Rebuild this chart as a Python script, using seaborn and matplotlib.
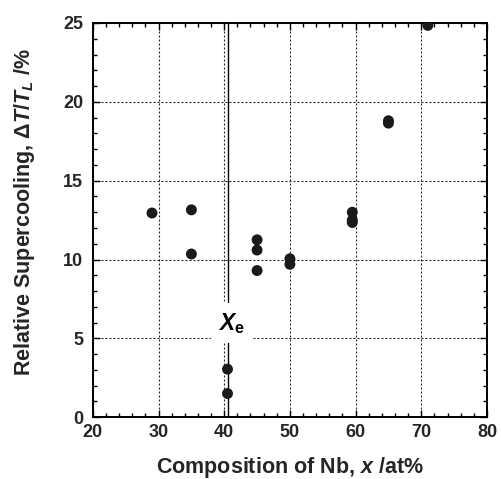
import pandas as pd
import matplotlib.pyplot as plt
import seaborn as sns
from matplotlib.ticker import MultipleLocator

# data
composition = [29, 35, 35, 40.5, 40.5, 45, 45, 45, 50, 50, 59.5, 59.5, 59.5, 65, 65, 71]
supercooling = [12.95, 13.15, 10.35, 3.05, 1.5, 11.25, 10.6, 9.3, 10.05, 9.7,
                13.0, 12.5, 12.35, 18.8, 18.65, 24.85]
eutectic_x = 40.5
x_ticks = [20, 30, 40, 50, 60, 70, 80]
y_ticks = [0, 5, 10, 15, 20, 25]

df = pd.DataFrame({'x': composition, 'y': supercooling})

sns.set_style('ticks')
plt.rcParams['font.family'] = ['Liberation Sans', 'DejaVu Sans']
plt.rcParams['font.weight'] = 'bold'
plt.rcParams['mathtext.fontset'] = 'custom'
plt.rcParams['mathtext.rm'] = 'Liberation Sans:bold'
plt.rcParams['mathtext.bf'] = 'Liberation Sans:bold'
plt.rcParams['mathtext.it'] = 'Liberation Sans:style=italic:weight=bold'

fig = plt.figure(figsize=(5.02, 4.79), dpi=100)
ax = fig.add_axes([0.185, 0.129, 0.785, 0.823])

# eutectic composition line
ax.axvline(eutectic_x, color='black', linewidth=1.0, zorder=2)

sns.scatterplot(data=df, x='x', y='y', ax=ax, color='#1a1a1a', s=62,
                edgecolor='none', zorder=4)

# label with white box that interrupts the line and the grid
ax.text(41.1, 5.95, r'$\mathit{X}_{\mathrm{e}}$', fontsize=16.5, ha='center', va='center',
        color='black', zorder=3, bbox=dict(facecolor='white', edgecolor='none', pad=5.5))

ax.set_xlim(20, 80)
ax.set_ylim(0, 25)
ax.set_xticks(x_ticks)
ax.set_yticks(y_ticks)
ax.xaxis.set_minor_locator(MultipleLocator(2))
ax.yaxis.set_minor_locator(MultipleLocator(1))
ax.tick_params(which='both', direction='in', top=True, right=True, labelsize=13,
               width=1.0, color='black')
ax.tick_params(which='major', length=5)
ax.tick_params(which='minor', length=3)
ax.tick_params(axis='x', which='major', pad=5)
ax.tick_params(axis='y', which='major', pad=7)
for lab in ax.get_xticklabels() + ax.get_yticklabels():
    lab.set_fontweight('bold')

ax.grid(which='major', linestyle=(0, (1.8, 1.8)), color='black', linewidth=0.8, alpha=0.85)
for sp in ax.spines.values():
    sp.set_linewidth(1.4)
    sp.set_color('black')

ax.set_xlabel(r'Composition of Nb, $\mathit{x}$ /at%', fontsize=15.5, fontweight='bold')
ax.set_ylabel(r'Relative Supercooling, $\Delta\mathit{T/T}_{\mathit{L}}$ /%', fontsize=15.5,
              fontweight='bold')
ax.xaxis.set_label_coords(0.5, -0.097)
ax.yaxis.set_label_coords(-0.142, 0.52)

plt.savefig('out.png', dpi=100)
